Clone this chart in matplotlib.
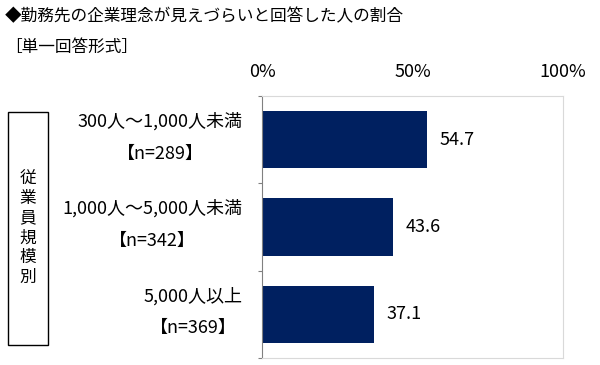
import matplotlib.pyplot as plt
from matplotlib.patches import Rectangle

plt.rcParams['font.family'] = ['Noto Sans CJK JP', 'DejaVu Sans']

title = "◆勤務先の企業理念が見えづらいと回答した人の割合"
subtitle = "［単一回答形式］"
group_label = "従業員規模別"
categories = ["300人～1,000人未満\n【n=289】",
              "1,000人～5,000人未満\n【n=342】",
              "5,000人以上\n【n=369】"]
values = [54.7, 43.6, 37.1]
xticks = [0, 50, 100]

fig = plt.figure(figsize=(6, 3.65), dpi=100)
ax = fig.add_axes([262 / 600, 7 / 365, 301 / 600, 262 / 365])

pos = list(range(len(values)))
ax.barh(pos, values, height=0.66, color="#002060")
for p, v in zip(pos, values):
    ax.text(v + 4.2, p, f"{v:.1f}", va="center", ha="left", fontsize=13)

# category labels, nudged up a little like the original
for p, c in zip(pos, categories):
    ax.annotate(c, xy=(0, p), xycoords=("axes fraction", "data"),
                xytext=(-14, 1.5), textcoords="offset points",
                ha="right", va="center", fontsize=13, linespacing=2.0,
                multialignment="center")

ax.set_xlim(0, 100)
ax.set_ylim(len(values) - 0.5, -0.5)

ax.xaxis.tick_top()
ax.set_xticks(xticks)
ax.set_xticklabels([f"{t}%" for t in xticks], fontsize=13)
ax.tick_params(axis="x", length=0, pad=11)

ax.set_yticks([p - 0.5 for p in pos] + [pos[-1] + 0.5])
ax.set_yticklabels([])
ax.tick_params(axis="y", length=3, color="#808080", direction="out")

for s in ["top", "right", "bottom"]:
    ax.spines[s].set_color("#d9d9d9")
ax.spines["left"].set_color("#808080")

fig.text(5 / 600, 1 - 17 / 365, title, fontsize=12, va="center", ha="left")
fig.text(5 / 600, 1 - 47 / 365, subtitle, fontsize=12, va="center", ha="left")

fig.patches.append(Rectangle((8 / 600, 1 - 345 / 365), 40 / 600, 233 / 365,
                             transform=fig.transFigure, fill=False,
                             edgecolor="black", linewidth=1))
fig.text(28 / 600, 1 - 228 / 365, "\n".join(group_label), fontsize=12,
         va="center", ha="center", linespacing=1.2)

fig.savefig("out.png", dpi=100)
